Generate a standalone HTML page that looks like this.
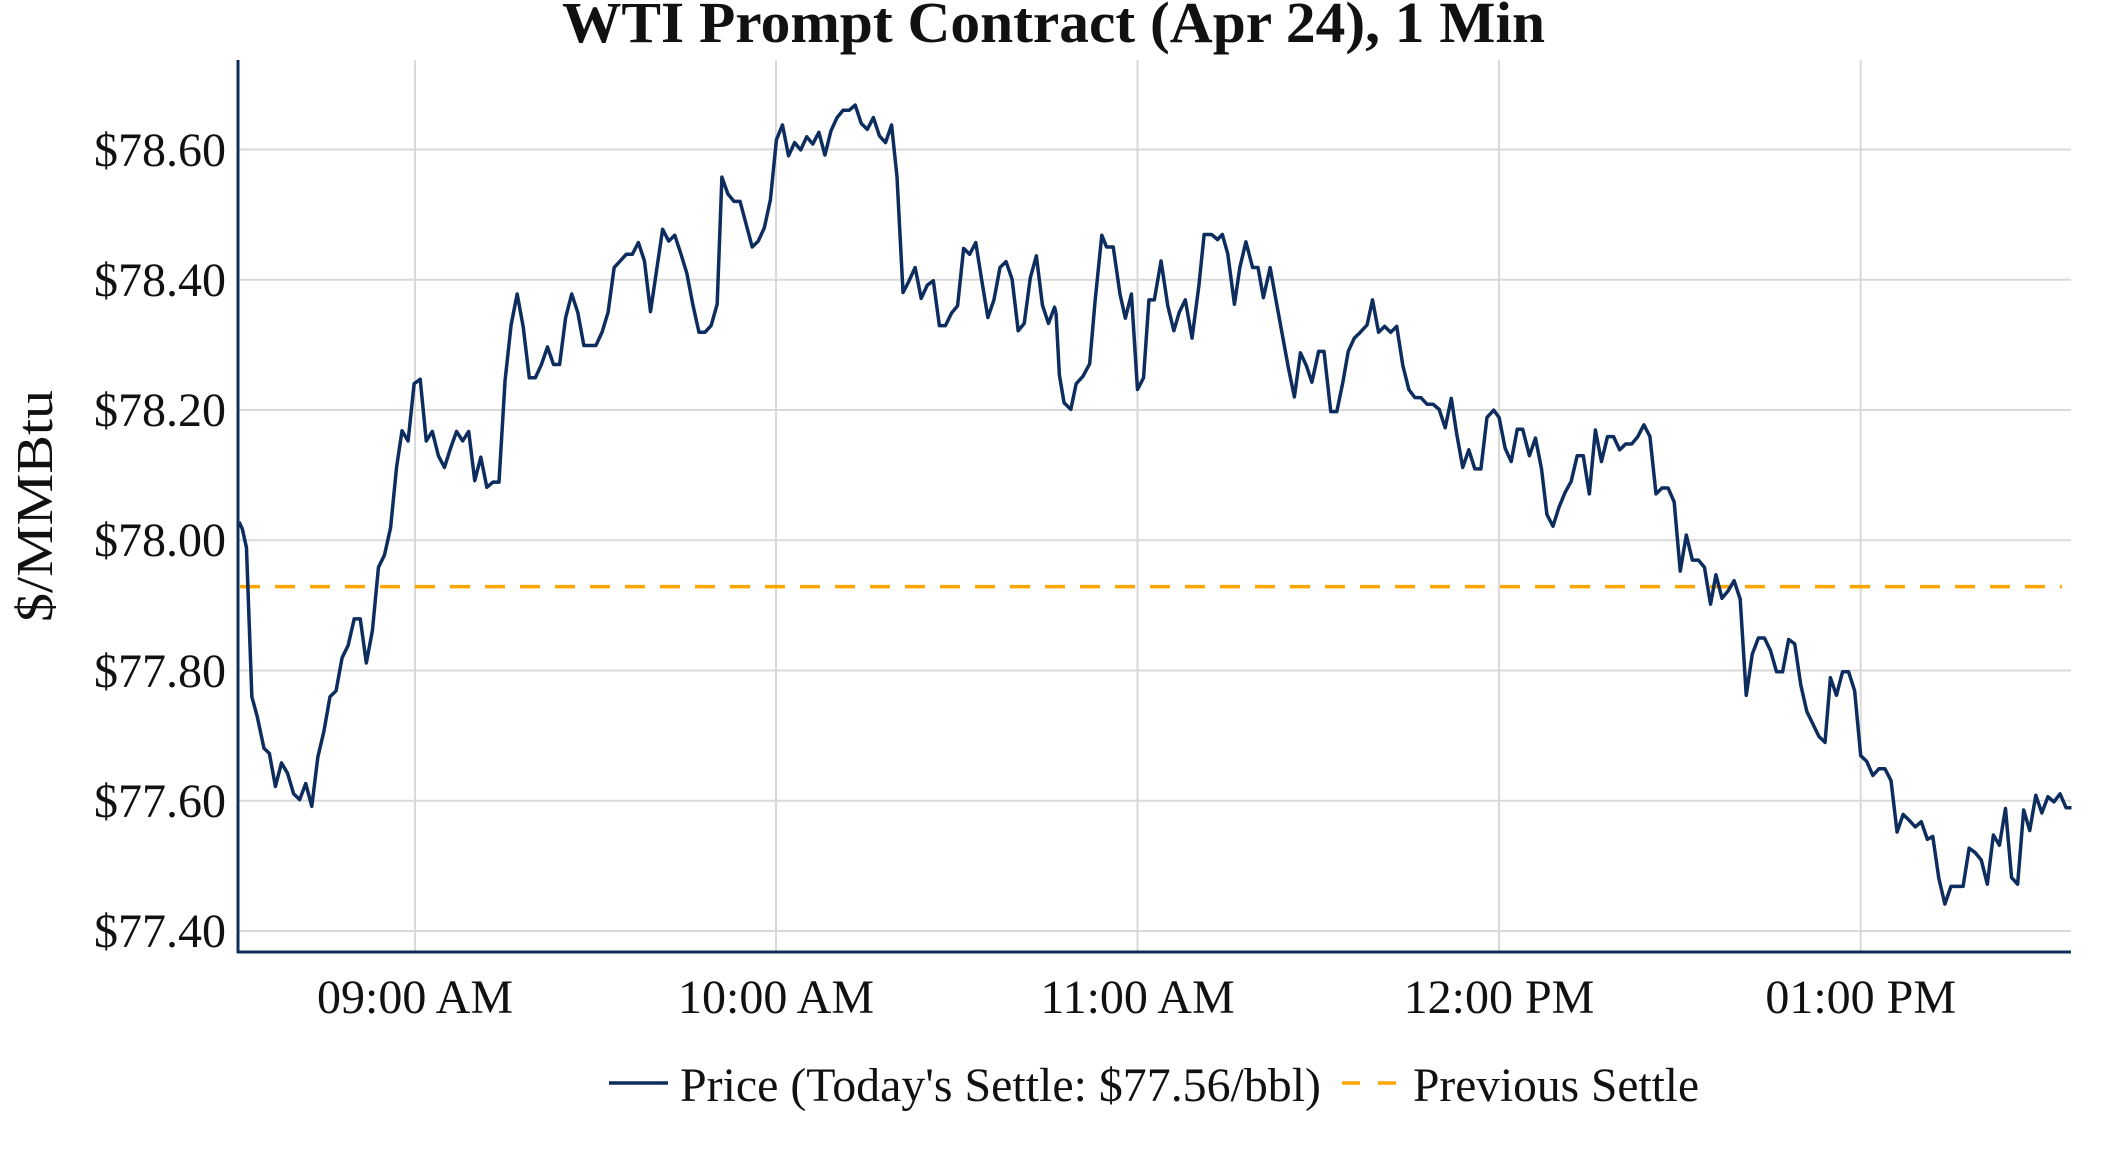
<!DOCTYPE html>
<html><head><meta charset="utf-8"><style>
html,body{margin:0;padding:0;background:#fff;}
svg{display:block;}
text{font-family:"Liberation Serif",serif;fill:#111;}
</style></head><body>
<svg width="2112" height="1152" viewBox="0 0 2112 1152" xmlns="http://www.w3.org/2000/svg">
<rect width="2112" height="1152" fill="#fff"/>
<g stroke="#d9d9d9" stroke-width="2">
<line x1="415" y1="60" x2="415" y2="952"/>
<line x1="776" y1="60" x2="776" y2="952"/>
<line x1="1137.5" y1="60" x2="1137.5" y2="952"/>
<line x1="1499" y1="60" x2="1499" y2="952"/>
<line x1="1860.7" y1="60" x2="1860.7" y2="952"/>
<line x1="237" y1="149.5" x2="2071" y2="149.5"/>
<line x1="237" y1="279.75" x2="2071" y2="279.75"/>
<line x1="237" y1="410" x2="2071" y2="410"/>
<line x1="237" y1="540.25" x2="2071" y2="540.25"/>
<line x1="237" y1="670.5" x2="2071" y2="670.5"/>
<line x1="237" y1="800.75" x2="2071" y2="800.75"/>
<line x1="237" y1="931" x2="2071" y2="931"/>
</g>
<line x1="240" y1="586.6" x2="2062" y2="586.6" stroke="#ffa500" stroke-width="3.5" stroke-dasharray="20,15"/>
<g fill="none" stroke="#0d2d5e" stroke-width="3.5" stroke-linejoin="round">
<polyline vector-effect="non-scaling-stroke" transform="scale(0.6734,0.735)" points="355,710 360,720 366,745 374,948 382,975 392,1018 400,1025 409,1070 418,1038 427,1052 436,1080 445,1088 454,1066 463,1097 472,1030 481,995 490,948 499,940 508,895 517,878 526,842 535,842 544,902 553,858 562,772 571,755 580,718 589,635 597,586 606,600 615,522 624,516 633,600 642,587 651,620 660,636 669,610 678,587 687,600 696,587 705,654 714,622 723,663 732,656 741,656 750,518 759,442 768,400 777,445 786,514 795,514 804,496 813,472 822,496 831,496 840,432 849,400 858,425 867,470 876,470 885,470 894,452 903,425 912,364 921,355 930,346 939,346 948,330 957,355 966,424 975,368 984,312 993,328 1002,320 1011,345 1020,372 1029,415 1038,452 1047,452 1056,443 1065,414 1072,241 1081,264 1090,274 1099,274 1108,305 1117,336 1126,328 1135,310 1144,272 1153,190 1162,170 1171,212 1180,194 1189,204 1198,186 1207,196 1216,180 1225,211 1234,178 1243,160 1252,150 1261,150 1270,143 1279,168 1288,176 1297,160 1306,185 1315,194 1324,170 1332,240 1341,398 1350,382 1359,364 1368,406 1377,388 1386,382 1395,443 1404,443 1413,426 1422,416 1431,338 1440,346 1449,330 1458,382 1467,432 1476,408 1485,364 1494,356 1503,380 1512,450 1521,440 1530,378 1539,348 1548,415 1557,440 1566,418 1568,425"/>
<polyline vector-effect="non-scaling-stroke" transform="translate(1056,0) scale(0.6734,0.735)" points="0,425 5,510 12,548 22,557 30,522 40,512 50,495 58,410 68,320 75,336 85,336 95,400 103,433 112,400 121,530 130,514 138,408 146,408 156,355 166,416 175,450 183,425 192,408 202,460 212,390 220,319 231,319 240,326 247,319 255,345 265,414 273,364 282,329 292,364 300,364 308,405 318,364 327,410 336,455 345,500 354,540 363,480 372,498 380,520 390,478 398,478 408,560 417,560 426,520 434,478 443,460 452,452 462,442 470,408 479,452 488,444 497,452 506,444 515,497 524,530 533,541 542,541 551,550 560,550 569,557 578,582 587,542 595,590 604,636 613,612 622,638 631,638 640,568 650,558 658,568 667,610 676,628 685,584 693,584 703,620 712,596 721,638 729,700 738,716 747,690 756,670 765,655 774,620 783,620 792,672 801,585 810,628 819,594 828,594 837,612 846,604 855,604 864,594 873,578 882,594 891,672 900,664 909,664 918,683 927,777 936,728 945,762 954,762 963,772 972,822 980,782 989,814 998,804 1007,790 1016,815 1025,946 1034,890 1043,868 1052,868 1061,885 1070,914 1079,914 1088,870 1097,876 1106,932 1115,968 1124,985 1133,1002 1142,1010 1150,922 1159,946 1168,914 1177,914 1186,940 1195,1028 1204,1036 1213,1055 1222,1046 1231,1046 1240,1062 1249,1132 1258,1108 1267,1116 1276,1125 1285,1118 1294,1142 1302,1138 1311,1195 1320,1230 1329,1206 1338,1206 1347,1206 1356,1154 1365,1160 1374,1170 1383,1203 1392,1136 1401,1150 1410,1100 1419,1194 1428,1203 1437,1102 1446,1130 1455,1082 1464,1106 1473,1084 1482,1091 1491,1080 1500,1099 1508,1099"/>
</g>
<g stroke="#0d2d5e" stroke-width="3">
<line x1="238" y1="60" x2="238" y2="953"/>
<line x1="237" y1="952" x2="2071" y2="952"/>
</g>
<g font-size="48" text-anchor="end">
<text x="226" y="166">$78.60</text>
<text x="226" y="296">$78.40</text>
<text x="226" y="426">$78.20</text>
<text x="226" y="556">$78.00</text>
<text x="226" y="687">$77.80</text>
<text x="226" y="817">$77.60</text>
<text x="226" y="947">$77.40</text>
</g>
<g font-size="48" text-anchor="middle">
<text x="415" y="1013">09:00 AM</text>
<text x="776" y="1013">10:00 AM</text>
<text x="1137.5" y="1013">11:00 AM</text>
<text x="1499" y="1013">12:00 PM</text>
<text x="1860.7" y="1013">01:00 PM</text>
</g>
<text x="0" y="0" font-size="52" text-anchor="middle" transform="translate(52,506) rotate(-90)" textLength="232" lengthAdjust="spacingAndGlyphs">$/MMBtu</text>
<text x="562" y="42" font-size="58" font-weight="bold" textLength="983" lengthAdjust="spacingAndGlyphs">WTI Prompt Contract (Apr 24), 1 Min</text>
<line x1="609" y1="1083" x2="668" y2="1083" stroke="#0d2d5e" stroke-width="3.5"/>
<text x="680" y="1101" font-size="48" textLength="641" lengthAdjust="spacingAndGlyphs">Price (Today's Settle: $77.56/bbl)</text>
<line x1="1342" y1="1083" x2="1396" y2="1083" stroke="#ffa500" stroke-width="3.5" stroke-dasharray="18,18"/>
<text x="1413" y="1101" font-size="48" textLength="286" lengthAdjust="spacingAndGlyphs">Previous Settle</text>
</svg>
</body></html>
